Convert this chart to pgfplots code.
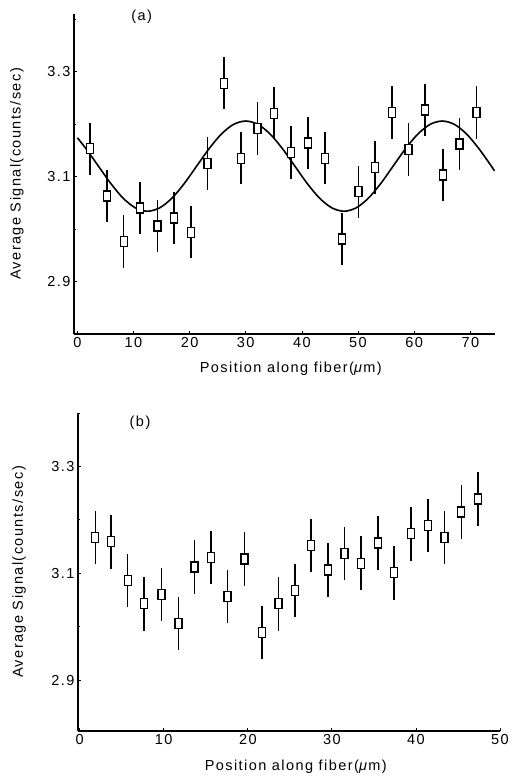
\documentclass[border=0pt]{standalone}
\usepackage{fontspec}
\setmainfont{Liberation Sans}[LetterSpace=10]
\usepackage{pgfplots}
\usepackage{pgfplotstable}
\pgfplotsset{compat=1.18}
\newcommand\ff{\fontsize{14.5}{17}\selectfont}

\pgfplotstableread{
x y e
2.3 3.153 0.05
5.3 3.063 0.05
8.25 2.976 0.05
11.2 3.040 0.05
14.3 3.006 0.05
17.2 3.021 0.05
20.25 2.994 0.05
23.2 3.125 0.05
26.1 3.278 0.05
29.1 3.135 0.05
32.1 3.192 0.05
35.0 3.221 0.05
38.1 3.146 0.05
41.1 3.164 0.05
44.1 3.135 0.05
47.1 2.981 0.05
50.1 3.071 0.05
53.0 3.117 0.05
56.0 3.222 0.05
59.0 3.152 0.05
61.9 3.227 0.05
65.1 3.103 0.05
68.1 3.162 0.05
71.1 3.222 0.05
}\dataA

\pgfplotstableread{
x y
0 3.174
1.5625 3.1529
3.75 3.12
5.9375 3.0871
8.125 3.0592
10.3125 3.0406
12.5 3.034
14.6875 3.0406
16.875 3.0592
19.0625 3.0871
21.25 3.12
23.4375 3.1529
25.625 3.1808
27.8125 3.1995
30 3.206
32.1875 3.1995
34.375 3.1808
36.5625 3.1529
38.75 3.12
40.9375 3.0871
43.125 3.0592
45.3125 3.0406
47.5 3.034
49.6875 3.0406
51.875 3.0592
54.0625 3.0871
56.25 3.12
58.4375 3.1529
60.625 3.1808
62.8125 3.1995
65 3.206
67.1875 3.1995
69.375 3.1808
71.5625 3.1529
73.75 3.12
74.3 3.111
}\fitA

\pgfplotstableread{
x y e
1.86 3.167 0.05
3.75 3.159 0.05
5.71 3.087 0.05
7.68 3.043 0.05
9.73 3.060 0.05
11.74 3.006 0.05
13.67 3.112 0.05
15.64 3.130 0.05
17.6 3.057 0.05
19.6 3.127 0.05
21.67 2.989 0.05
23.64 3.043 0.05
25.6 3.068 0.05
27.5 3.152 0.05
29.55 3.106 0.05
31.5 3.137 0.05
33.5 3.119 0.05
35.5 3.157 0.05
37.4 3.101 0.05
39.4 3.174 0.05
41.45 3.190 0.05
43.4 3.167 0.05
45.4 3.215 0.05
47.4 3.239 0.05
}\dataB

\pgfplotsset{
  myax/.style={
    scale only axis,
    axis x line=bottom, axis y line=left,
    axis line style={line width=1.6pt,-},
    tick style={black, line width=0.8pt},
    major tick length=3pt, minor tick length=2pt,
    tick align=inside,
    ytick={2.9,3.1,3.3}, yticklabels={2.9,3.1,3.3},
    minor ytick={2.8,3.0,3.2,3.4},
    /pgf/number format/assume math mode=true,
    tick label style={font=\ff},
    label style={font=\ff},
    ylabel={Average Signal(counts/sec)},
    xlabel={Position along fiber(\textit{μ}m)},
    clip=false,
  },
  pts/.style={black, only marks, mark=square*,
    mark size=5pt,
    mark options={fill=white, draw=black, line width=1.3pt, xscale=0.7},
    error bars/.cd, y dir=both, y explicit, error mark=none,
    error bar style={line width=1.6pt, black}},
}

\begin{document}
\begin{tikzpicture}
\path[use as bounding box] (0,0) rectangle (510pt,-776pt);

\begin{axis}[myax, at={(74pt,-334pt)}, anchor=south west,
  width=421pt, height=320pt,
  xmin=-0.6, xmax=74.4, ymin=2.80, ymax=3.41,
  xtick={0,10,...,70},
  xlabel style={at={(axis description cs:0.515,0)}, anchor=center, yshift=-35pt},
  ylabel style={at={(axis description cs:-0.1354,0.5)}, anchor=center, rotate=0},
  ]
  \addplot[black, line width=1.6pt, smooth] table[x=x,y=y] {\fitA};
  \addplot[pts] table[x=x,y=y,y error=e] {\dataA};
  \node[font=\ff] at (rel axis cs:0.161,0.99) {(a)};
\end{axis}

\begin{axis}[myax, at={(78pt,-731pt)}, anchor=south west,
  width=422pt, height=318pt,
  xmin=-0.2, xmax=50, ymin=2.805, ymax=3.40,
  xtick={0,10,...,50},
  xlabel style={at={(axis description cs:0.516,0)}, anchor=center, yshift=-36pt},
  ylabel style={at={(axis description cs:-0.1398,0.5)}, anchor=center},
  ]
  \addplot[pts] table[x=x,y=y,y error=e] {\dataB};
  \node[font=\ff] at (rel axis cs:0.147,0.97) {(b)};
\end{axis}
\end{tikzpicture}
\end{document}
